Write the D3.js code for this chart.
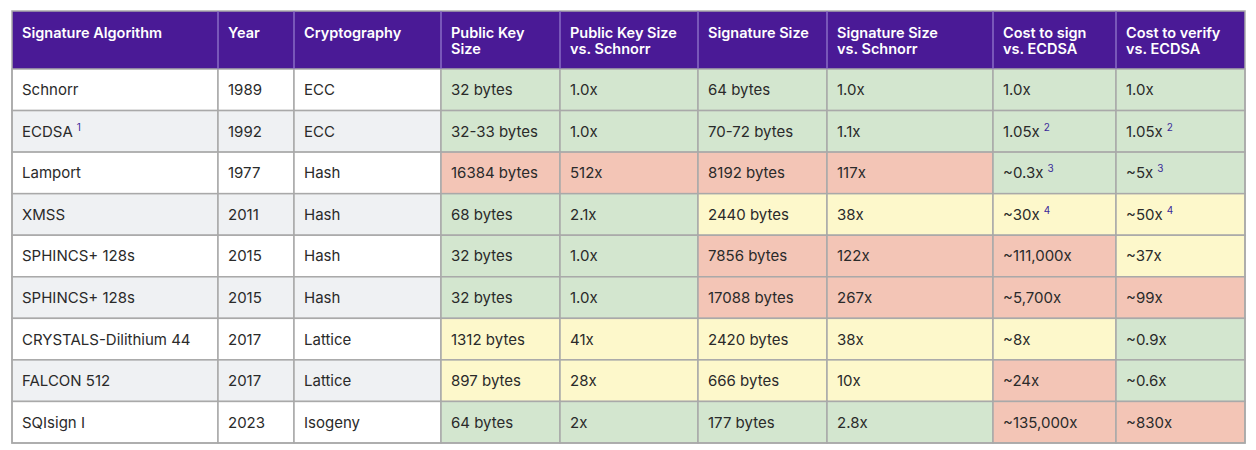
<!DOCTYPE html>
<html><head><meta charset="utf-8">
<script src="https://cdn.jsdelivr.net/npm/d3@7"></script>
<style>body{margin:0;background:#fff}svg{font-family:Inter,"Noto Sans",sans-serif}</style>
</head><body><div id="chart"></div>
<script>
'use strict';

const headers = [["Signature Algorithm"],["Year"],["Cryptography"],["Public Key","Size"],["Public Key Size","vs. Schnorr"],["Signature Size"],["Signature Size","vs. Schnorr"],["Cost to sign","vs. ECDSA"],["Cost to verify","vs. ECDSA"]];
const algorithms = ["Schnorr","ECDSA","Lamport","XMSS","SPHINCS+ 128s","SPHINCS+ 128s","CRYSTALS-Dilithium 44","FALCON 512","SQIsign I"];
const algNotes = ["","1","","","","","","",""];
const years = ["1989","1992","1977","2011","2015","2015","2017","2017","2023"];
const crypto = ["ECC","ECC","Hash","Hash","Hash","Hash","Lattice","Lattice","Isogeny"];
const pubKey = ["32 bytes","32-33 bytes","16384 bytes","68 bytes","32 bytes","32 bytes","1312 bytes","897 bytes","64 bytes"];
const pubKeyRel = ["1.0x","1.0x","512x","2.1x","1.0x","1.0x","41x","28x","2x"];
const sigSize = ["64 bytes","70-72 bytes","8192 bytes","2440 bytes","7856 bytes","17088 bytes","2420 bytes","666 bytes","177 bytes"];
const sigRel = ["1.0x","1.1x","117x","38x","122x","267x","38x","10x","2.8x"];
const signCost = ["1.0x","1.05x","~0.3x","~30x","~111,000x","~5,700x","~8x","~24x","~135,000x"];
const signNotes = ["","2","3","4","","","","",""];
const verifyCost = ["1.0x","1.05x","~5x","~50x","~37x","~99x","~0.9x","~0.6x","~830x"];
const verifyNotes = ["","2","3","4","","","","",""];
// rating per coloured column: g good, y medium, r poor
const ratings = ["gggggg","gggggg","rrrrgg","ggyyyy","ggrrry","ggrrrr","yyyyyg","yyyyrg","ggggrr"];

const fills = {g:"#d3e6cf", y:"#fdf8cb", r:"#f3c5b6"};
const colEdges = [12,218,294,441,560,698,827,993,1116,1245];
const W = 1256, H = 450, headTop = 11, headBot = 69, bottom = 443;

const svg = d3.select("#chart").append("svg").attr("width", W).attr("height", H);
const x = d3.scaleOrdinal().domain(d3.range(9)).range(colEdges.slice(0,9));
const cw = i => colEdges[i+1]-colEdges[i];
const y = d3.scaleBand().domain(d3.range(algorithms.length)).range([headBot, bottom]);

// header
svg.append("rect").attr("x",12).attr("y",headTop).attr("width",1233).attr("height",headBot-headTop).attr("fill","#4a1a96");
const hg = svg.selectAll(".h").data(headers).join("text")
    .attr("x",(d,i)=>x(i)+10).attr("y",headTop+27)
    .attr("fill","#fff").attr("font-size",14.5).attr("font-weight",600);
hg.selectAll("tspan").data(d=>d).join("tspan")
    .attr("x",function(){return this.parentNode.getAttribute("x");})
    .attr("dy",(d,i)=>i?16:0).text(d=>d);

const cols = [algorithms,years,crypto,pubKey,pubKeyRel,sigSize,sigRel,signCost,verifyCost];
const notes = [algNotes,null,null,null,null,null,null,signNotes,verifyNotes];

const rows = svg.selectAll(".row").data(algorithms).join("g").attr("transform",(d,r)=>`translate(0,${y(r)})`);
rows.each(function(d,r){
  const g = d3.select(this);
  cols.forEach((col,c)=>{
    const fill = c<3 ? (r%2 ? "#eff1f3" : "#fff") : fills[ratings[r][c-3]];
    g.append("rect").attr("x",x(c)).attr("width",cw(c)).attr("height",y.bandwidth())
      .attr("fill",fill).attr("stroke","#a9a9a9").attr("stroke-width",1.5);
    const t = g.append("text").attr("x",x(c)+10).attr("y",y.bandwidth()/2+5.5)
      .attr("font-size",15).attr("fill","#2a2a2a").text(col[r]);
    if (notes[c] && notes[c][r]) t.append("tspan").attr("dx",4).attr("dy",-6)
      .attr("font-size",10).attr("fill","#3b2a9a").text(notes[c][r]);
  });
});
svg.append("rect").attr("x",12).attr("y",headTop).attr("width",1233).attr("height",bottom-headTop)
  .attr("fill","none").attr("stroke","#a9a9a9").attr("stroke-width",1.5);
svg.selectAll(".hl").data(d3.range(1,9)).join("line")
  .attr("x1",i=>x(i)).attr("x2",i=>x(i)).attr("y1",headTop).attr("y2",headBot)
  .attr("stroke","#8a6cc4").attr("stroke-width",1.5);
</script></body></html>
